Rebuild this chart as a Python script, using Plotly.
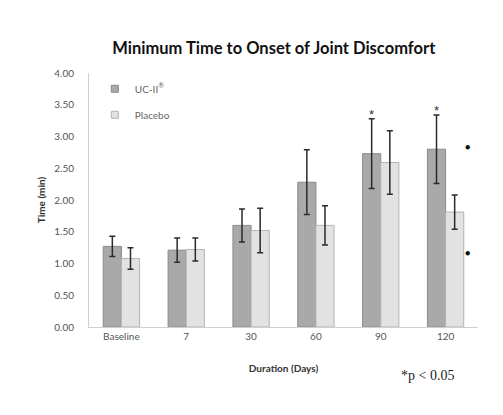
import plotly.graph_objects as go

durations = ['Baseline', '7', '30', '60', '90', '120']

uc2_mean = [1.27, 1.21, 1.60, 2.28, 2.73, 2.80]
uc2_err = [0.16, 0.19, 0.26, 0.51, 0.55, 0.54]

placebo_mean = [1.08, 1.22, 1.52, 1.60, 2.59, 1.81]
placebo_err = [0.17, 0.18, 0.35, 0.31, 0.50, 0.27]

# significant time points (UC-II vs baseline)
signif_days = ['90', '120']
signif_tops = [3.28, 3.34]

# stray bullet marks next to the last group
dot_day = '120'
dot_values = [2.85, 1.18]

uc2_fill, uc2_edge = '#a9a9a9', '#8a8a8a'
pl_fill, pl_edge = '#e2e2e2', '#b4b4b4'

fig = go.Figure()
fig.add_trace(go.Bar(x=durations, y=uc2_mean, name='UC-II<sup>®</sup>', showlegend=False,
                     marker=dict(color=uc2_fill, line=dict(color=uc2_edge, width=1)),
                     error_y=dict(type='data', array=uc2_err, color='#2b2b2b', thickness=1.5, width=3)))
fig.add_trace(go.Bar(x=durations, y=placebo_mean, name='Placebo', showlegend=False,
                     marker=dict(color=pl_fill, line=dict(color=pl_edge, width=1)),
                     error_y=dict(type='data', array=placebo_err, color='#2b2b2b', thickness=1.5, width=3)))

# legend entries with small square keys, like the original
fig.add_trace(go.Scatter(x=[None], y=[None], mode='markers', name='UC-II<sup>®</sup>', legendgroup='uc2',
                         marker=dict(symbol='square', size=7, color=uc2_fill, line=dict(color=uc2_edge, width=1))))
fig.add_trace(go.Scatter(x=[None], y=[None], mode='markers', name='Placebo', legendgroup='placebo',
                         marker=dict(symbol='square', size=7, color=pl_fill, line=dict(color=pl_edge, width=1))))

# category labels look like numbers, so annotations use the category index
for day, top in zip(signif_days, signif_tops):
    fig.add_annotation(x=durations.index(day), y=top, text='*', showarrow=False, xshift=-9, yshift=4,
                       font=dict(size=13, color='#333333', family='Liberation Sans'))

for v in dot_values:
    fig.add_annotation(x=durations.index(dot_day), y=v, text='●', showarrow=False, xshift=22,
                       font=dict(size=9, color='#111111'))

fig.add_annotation(xref='paper', yref='paper', x=0.871, y=-0.19, xanchor='center', yanchor='middle',
                   text='*p < 0.05', showarrow=False,
                   font=dict(family='Liberation Serif', size=14, color='#222222'))

# the page has an 8px body margin, so the figure is drawn 8px smaller
fig.update_layout(title=dict(text='<b>Minimum Time to Onset of Joint Discomfort</b>', x=0.537, y=0.9,
                             xanchor='center', yanchor='middle',
                             font=dict(family='Lato', size=16.5, color='#111111')),
                  width=495, height=407,
                  margin=dict(l=81, r=25, t=65, b=88),
                  paper_bgcolor='white', plot_bgcolor='white',
                  barmode='group', bargap=0.44, bargroupgap=0,
                  font=dict(family='Lato', color='#595959'),
                  legend=dict(x=0.015, y=0.995, xanchor='left', yanchor='top', bgcolor='rgba(0,0,0,0)',
                              font=dict(size=10, color='#666666'), itemwidth=30,
                              tracegroupgap=7),
                  showlegend=True)

fig.update_xaxes(type='category', automargin=False, showline=True, linecolor='#d0d0d0', linewidth=1,
                 ticks='', showgrid=False, tickfont=dict(size=10, color='#555555'),
                 title=dict(text='<b>Duration (Days)</b>', font=dict(size=10, color='#333333'), standoff=23))
fig.update_yaxes(range=[0, 4], dtick=0.5, tickformat='.2f', automargin=False, showline=True,
                 linecolor='#d0d0d0', linewidth=1,
                 ticks='', showgrid=False, zeroline=False, ticklabelstandoff=12,
                 tickfont=dict(size=10, color='#555555'),
                 title=dict(text='<b>Time (min)</b>', font=dict(size=10, color='#333333'), standoff=6))

fig.write_html("out.html")
